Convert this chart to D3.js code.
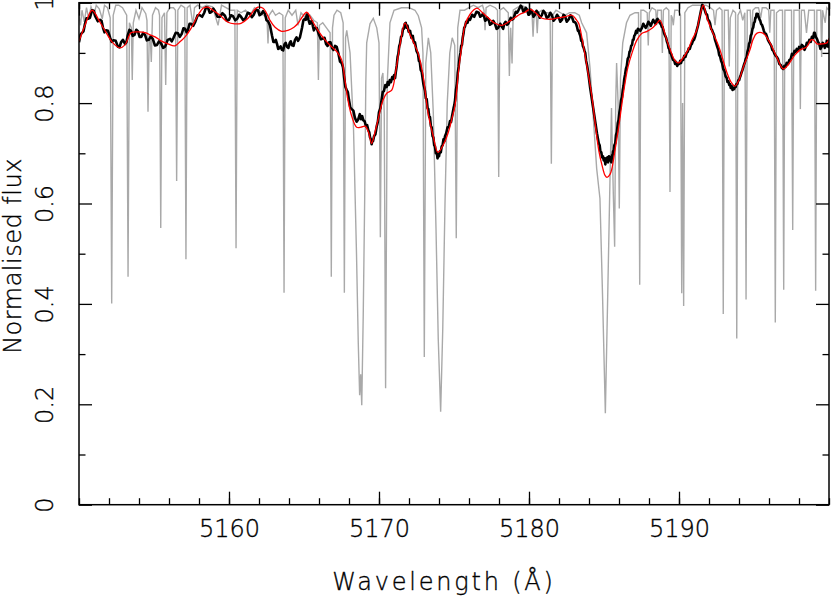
<!DOCTYPE html>
<html>
<head>
<meta charset="utf-8">
<script src="https://cdn.jsdelivr.net/npm/d3@7"></script>
<style>
	html, body { margin: 0; padding: 0; background: #fff; }
	svg { display: block; }
	text { font-family: "DejaVu Sans", sans-serif; font-weight: 200; fill: #000; stroke: #000; stroke-width: 0.35; }
</style>
</head>
<body>
<svg id="spectrum" width="831" height="598"></svg>
<script>
// wavelength range and ticks
const xDomain = [5150, 5200];
const yDomain = [0, 1];
const xMajor = [5150, 5160, 5170, 5180, 5190, 5200];
const xMinor = d3.range(5150, 5201, 2);
const yMajor = [0, 0.2, 0.4, 0.6, 0.8, 1];
const yMinor = [0.1, 0.3, 0.5, 0.7, 0.9];

// synthetic (unbroadened) spectrum, grey
const synthetic = [
	[5150.00,0.975],[5150.10,0.955],[5150.20,0.985],[5150.35,0.962],[5150.50,0.990],[5150.65,0.968],[5150.80,0.992],[5151.00,0.975],[5151.15,0.995],[5151.35,0.988],[5151.55,0.968],[5151.70,0.995],[5151.90,0.990],
	[5152.08,0.970],[5152.18,0.401],[5152.28,0.975],[5152.45,0.995],[5152.65,0.995],[5152.90,0.990],
	[5153.18,0.975],[5153.27,0.454],[5153.36,0.960],[5153.49,0.950],[5153.55,0.846],[5153.62,0.960],[5153.80,0.985],[5154.00,0.968],[5154.20,0.990],[5154.45,0.978],
	[5154.53,0.965],[5154.60,0.783],[5154.68,0.935],[5154.76,0.925],[5154.82,0.882],[5154.90,0.975],[5155.10,0.990],[5155.30,0.985],
	[5155.37,0.975],[5155.45,0.551],[5155.53,0.970],[5155.70,0.980],[5155.78,0.836],[5155.86,0.980],[5156.05,0.990],[5156.30,0.990],
	[5156.43,0.985],[5156.51,0.645],[5156.59,0.985],[5156.80,0.995],[5157.05,0.990],[5157.13,0.489],[5157.21,0.990],[5157.40,0.995],
	[5157.60,0.955],[5157.70,0.990],[5157.90,0.995],[5158.20,0.990],[5158.50,0.995],[5158.90,0.992],[5159.27,0.955],[5159.50,0.995],[5159.80,0.990],[5160.10,0.985],
	[5160.39,0.985],[5160.47,0.511],[5160.55,0.985],[5160.80,0.980],[5161.10,0.985],[5161.40,0.975],[5161.70,0.990],[5162.00,0.985],[5162.30,0.975],
	[5162.53,0.970],[5162.60,0.919],[5162.67,0.975],[5162.90,0.985],[5163.10,0.975],[5163.35,0.980],
	[5163.59,0.975],[5163.67,0.422],[5163.75,0.970],[5163.95,0.985],[5164.20,0.975],[5164.45,0.985],[5164.60,0.955],[5164.80,0.980],[5165.10,0.970],[5165.40,0.975],[5165.65,0.965],
	[5165.89,0.960],[5165.96,0.846],[5166.03,0.955],[5166.25,0.960],[5166.50,0.950],
	[5166.74,0.940],[5166.82,0.454],[5166.90,0.950],[5167.00,0.975],[5167.20,0.985],[5167.45,0.980],
	[5167.61,0.960],[5167.69,0.422],[5167.77,0.930],[5167.85,0.945],[5168.07,0.900],[5168.30,0.750],[5168.50,0.500],[5168.62,0.320],[5168.71,0.218],[5168.78,0.260],[5168.85,0.198],[5168.95,0.380],[5169.05,0.620],[5169.12,0.840],[5169.18,0.920],[5169.40,0.958],[5169.62,0.969],[5169.85,0.950],
	[5170.00,0.920],[5170.09,0.533],[5170.17,0.850],[5170.26,0.860],[5170.35,0.780],[5170.44,0.232],[5170.55,0.840],[5170.73,0.960],[5171.00,0.985],[5171.50,0.990],[5172.00,0.990],[5172.40,0.985],[5172.62,0.974],[5172.84,0.950],
	[5172.93,0.900],[5173.02,0.294],[5173.12,0.880],[5173.29,0.930],[5173.45,0.900],[5173.62,0.780],[5173.80,0.550],[5173.95,0.330],[5174.11,0.185],[5174.25,0.350],[5174.40,0.600],[5174.55,0.800],[5174.72,0.900],[5174.88,0.930],
	[5175.05,0.915],[5175.15,0.531],[5175.25,0.950],[5175.40,0.985],[5175.70,0.985],[5176.00,0.990],[5176.30,0.995],[5176.60,0.990],[5176.90,0.995],[5177.00,0.985],[5177.07,0.945],[5177.14,0.990],[5177.40,0.995],[5177.75,0.990],
	[5177.90,0.985],[5177.98,0.653],[5178.06,0.985],[5178.30,0.990],[5178.62,0.980],[5178.69,0.854],[5178.78,0.950],[5178.87,0.879],[5178.95,0.985],[5179.20,0.990],[5179.50,0.995],[5179.80,0.990],[5180.05,0.985],
	[5180.20,0.980],[5180.27,0.932],[5180.35,0.980],[5180.48,0.975],[5180.55,0.939],[5180.62,0.980],[5180.85,0.985],[5181.10,0.980],[5181.30,0.980],
	[5181.41,0.975],[5181.49,0.679],[5181.57,0.975],[5181.80,0.985],[5182.10,0.980],[5182.40,0.975],[5182.70,0.980],[5183.05,0.980],[5183.35,0.975],[5183.51,0.960],[5183.84,0.940],[5184.07,0.870],[5184.29,0.770],[5184.51,0.670],[5184.73,0.610],[5184.90,0.420],[5185.09,0.182],[5185.25,0.420],[5185.40,0.650],[5185.50,0.790],[5185.62,0.620],[5185.71,0.514],[5185.78,0.800],[5185.84,0.880],[5185.94,0.800],[5186.02,0.590],[5186.10,0.850],[5186.25,0.920],[5186.50,0.960],[5186.73,0.975],[5187.07,0.980],
	[5187.30,0.980],[5187.38,0.438],[5187.46,0.985],[5187.65,0.985],[5187.88,0.980],[5187.95,0.915],[5188.02,0.980],[5188.20,0.990],[5188.45,0.985],[5188.51,0.955],[5188.58,0.985],[5188.82,0.985],[5188.89,0.900],[5188.96,0.985],[5189.15,0.990],
	[5189.32,0.985],[5189.40,0.623],[5189.48,0.975],[5189.55,0.970],[5189.62,0.955],[5189.72,0.985],[5189.95,0.985],[5190.10,0.975],[5190.18,0.421],[5190.24,0.800],[5190.31,0.396],[5190.39,0.980],[5190.60,0.990],[5190.90,0.995],[5191.20,0.995],[5191.50,0.995],[5191.80,0.995],[5192.10,0.990],[5192.30,0.985],[5192.40,0.955],[5192.50,0.985],[5192.70,0.990],
	[5192.87,0.985],[5192.95,0.380],[5193.03,0.985],[5193.28,0.985],[5193.35,0.873],[5193.42,0.970],[5193.60,0.985],[5193.77,0.980],[5193.85,0.331],[5193.93,0.975],[5194.10,0.985],[5194.25,0.965],[5194.39,0.980],[5194.47,0.409],[5194.55,0.985],[5194.75,0.985],[5194.84,0.920],[5194.92,0.985],[5195.10,0.990],[5195.30,0.990],[5195.45,0.970],[5195.55,0.990],[5195.80,0.990],[5195.98,0.985],[5196.05,0.940],[5196.12,0.985],
	[5196.34,0.985],[5196.42,0.363],[5196.50,0.980],[5196.70,0.985],[5196.90,0.985],[5196.98,0.428],[5197.06,0.985],[5197.30,0.985],[5197.50,0.985],[5197.58,0.547],[5197.66,0.985],[5197.85,0.985],[5198.02,0.985],[5198.09,0.788],[5198.16,0.985],[5198.35,0.985],[5198.50,0.940],[5198.65,0.985],[5198.85,0.985],[5199.03,0.985],[5199.11,0.426],[5199.19,0.985],[5199.35,0.985],[5199.45,0.985],[5199.51,0.892],[5199.57,0.985],[5199.75,0.960],[5199.85,0.990],[5200.00,0.985]
];

// observed spectrum, black (noisy)
const observed = [
	[5150.00,0.921],[5150.10,0.936],[5150.20,0.940],[5150.30,0.943],[5150.40,0.958],[5150.50,0.969],[5150.60,0.968],[5150.73,0.970],[5150.87,0.985],[5150.98,0.984],[5151.10,0.972],[5151.25,0.963],[5151.40,0.966],[5151.50,0.964],[5151.60,0.950],[5151.70,0.941],[5151.80,0.945],[5151.93,0.944],
	[5152.07,0.931],[5152.18,0.922],[5152.30,0.925],[5152.45,0.924],[5152.60,0.912],[5152.70,0.911],[5152.80,0.921],[5152.93,0.926],[5153.07,0.918],[5153.16,0.921],[5153.25,0.935],[5153.36,0.946],[5153.47,0.944],[5153.58,0.934],[5153.70,0.936],[5153.82,0.946],[5153.93,0.943],
	[5154.04,0.932],[5154.15,0.932],[5154.28,0.940],[5154.40,0.936],[5154.52,0.925],[5154.65,0.926],[5154.79,0.933],[5154.93,0.927],[5155.06,0.915],[5155.20,0.916],[5155.33,0.923],[5155.47,0.919],[5155.61,0.910],[5155.75,0.913],[5155.91,0.926],
	[5156.07,0.928],[5156.18,0.923],[5156.30,0.930],[5156.45,0.940],[5156.60,0.939],[5156.72,0.932],[5156.85,0.938],[5156.96,0.949],[5157.07,0.948],[5157.17,0.941],[5157.27,0.946],[5157.37,0.958],[5157.47,0.958],[5157.61,0.954],[5157.75,0.962],[5157.91,0.975],
	[5158.07,0.975],[5158.21,0.972],[5158.35,0.980],[5158.47,0.991],[5158.60,0.990],[5158.72,0.980],[5158.85,0.982],[5158.96,0.988],[5159.07,0.983],[5159.23,0.972],[5159.40,0.972],[5159.56,0.979],[5159.73,0.974],[5159.86,0.964],
	[5160.00,0.966],[5160.13,0.975],[5160.27,0.973],[5160.41,0.965],[5160.55,0.968],[5160.67,0.976],[5160.80,0.972],[5160.95,0.965],[5161.10,0.969],[5161.25,0.980],[5161.40,0.978],[5161.52,0.971],[5161.65,0.976],[5161.79,0.986],[5161.93,0.985],
	[5162.04,0.975],[5162.15,0.977],[5162.27,0.983],[5162.40,0.978],[5162.50,0.965],[5162.60,0.963],[5162.73,0.955],[5162.87,0.934],[5162.96,0.922],[5163.05,0.922],[5163.12,0.926],[5163.20,0.918],[5163.28,0.908],[5163.35,0.909],[5163.44,0.913],[5163.53,0.906],[5163.61,0.905],[5163.70,0.917],[5163.78,0.920],[5163.87,0.912],[5163.96,0.910],
	[5164.05,0.920],[5164.12,0.923],[5164.20,0.915],[5164.30,0.914],[5164.40,0.926],[5164.50,0.931],[5164.60,0.924],[5164.73,0.931],[5164.87,0.950],[5164.96,0.965],[5165.05,0.968],[5165.12,0.966],[5165.18,0.976],[5165.24,0.977],[5165.30,0.966],[5165.38,0.958],[5165.47,0.963],[5165.53,0.963],[5165.60,0.952],[5165.66,0.945],[5165.73,0.950],[5165.86,0.949],
	[5166.00,0.936],[5166.13,0.927],[5166.27,0.929],[5166.37,0.930],[5166.47,0.918],[5166.57,0.914],[5166.67,0.921],[5166.77,0.921],[5166.87,0.910],[5166.97,0.906],[5167.07,0.914],[5167.18,0.912],[5167.30,0.898],[5167.40,0.883],[5167.51,0.880],[5167.60,0.871],[5167.68,0.850],[5167.76,0.832],[5167.85,0.826],[5167.92,0.822],
	[5168.00,0.806],[5168.09,0.791],[5168.18,0.788],[5168.29,0.785],[5168.40,0.770],[5168.51,0.763],[5168.62,0.768],[5168.72,0.778],[5168.80,0.768],[5168.88,0.774],[5168.95,0.766],[5169.04,0.764],[5169.13,0.754],[5169.21,0.756],[5169.29,0.746],[5169.35,0.742],[5169.40,0.732],[5169.46,0.728],[5169.51,0.718],[5169.56,0.726],[5169.60,0.724],[5169.67,0.734],[5169.76,0.738],[5169.85,0.754],[5169.92,0.762],
	[5170.00,0.782],[5170.09,0.790],[5170.18,0.808],[5170.25,0.822],[5170.33,0.824],[5170.42,0.836],[5170.51,0.832],[5170.58,0.842],[5170.65,0.836],[5170.72,0.846],[5170.80,0.842],[5170.88,0.852],[5170.95,0.848],[5171.01,0.856],[5171.07,0.850],[5171.12,0.862],[5171.18,0.874],[5171.24,0.892],[5171.29,0.898],[5171.35,0.914],[5171.40,0.918],[5171.47,0.932],[5171.53,0.934],[5171.60,0.948],[5171.66,0.948],[5171.72,0.958],[5171.78,0.960],[5171.84,0.950],[5171.90,0.954],[5171.98,0.942],
	[5172.07,0.944],[5172.16,0.930],[5172.25,0.934],[5172.33,0.920],[5172.40,0.921],[5172.50,0.904],[5172.60,0.898],[5172.66,0.884],[5172.72,0.882],[5172.78,0.866],[5172.85,0.862],[5172.96,0.838],[5173.07,0.824],[5173.12,0.810],[5173.18,0.808],[5173.24,0.790],[5173.29,0.788],[5173.35,0.772],[5173.40,0.772],[5173.46,0.754],[5173.51,0.752],[5173.57,0.734],[5173.62,0.732],[5173.68,0.716],[5173.73,0.714],[5173.79,0.700],[5173.85,0.702],[5173.90,0.690],[5173.95,0.696],
	[5174.00,0.694],[5174.06,0.704],[5174.12,0.702],[5174.18,0.714],[5174.24,0.716],[5174.30,0.728],[5174.35,0.724],[5174.40,0.734],[5174.48,0.740],[5174.57,0.752],[5174.65,0.752],[5174.73,0.764],[5174.80,0.762],[5174.87,0.774],[5174.92,0.782],[5174.97,0.790],[5175.02,0.796],[5175.07,0.806],[5175.13,0.826],[5175.20,0.840],[5175.25,0.860],[5175.31,0.872],[5175.37,0.890],[5175.43,0.900],[5175.48,0.914],[5175.53,0.916],[5175.58,0.930],[5175.63,0.938],[5175.68,0.950],[5175.73,0.952],[5175.81,0.962],[5175.90,0.960],[5175.98,0.968],
	[5176.07,0.966],[5176.21,0.976],[5176.35,0.972],[5176.50,0.982],[5176.65,0.980],[5176.75,0.972],[5176.85,0.974],[5176.93,0.978],[5177.00,0.973],[5177.08,0.964],[5177.15,0.966],[5177.23,0.970],[5177.31,0.966],[5177.40,0.956],[5177.50,0.958],[5177.62,0.964],[5177.73,0.958],[5177.84,0.948],[5177.95,0.950],
	[5178.08,0.958],[5178.20,0.952],[5178.28,0.948],[5178.35,0.958],[5178.44,0.962],[5178.53,0.956],[5178.62,0.958],[5178.70,0.964],[5178.78,0.970],[5178.87,0.966],[5178.96,0.968],[5179.05,0.976],[5179.12,0.982],[5179.20,0.980],[5179.28,0.984],[5179.35,0.988],[5179.44,0.994],[5179.53,0.991],[5179.62,0.982],[5179.70,0.984],[5179.78,0.990],[5179.87,0.986],[5179.96,0.976],
	[5180.05,0.978],[5180.12,0.986],[5180.20,0.982],[5180.30,0.972],[5180.40,0.976],[5180.50,0.984],[5180.60,0.980],[5180.72,0.970],[5180.85,0.975],[5180.96,0.984],[5181.07,0.980],[5181.18,0.970],[5181.30,0.972],[5181.42,0.980],[5181.53,0.975],[5181.64,0.964],[5181.75,0.968],[5181.87,0.976],[5181.98,0.971],
	[5182.09,0.962],[5182.20,0.966],[5182.30,0.976],[5182.40,0.973],[5182.52,0.962],[5182.65,0.967],[5182.76,0.975],[5182.87,0.971],[5182.97,0.962],[5183.07,0.961],[5183.14,0.958],[5183.20,0.952],[5183.26,0.944],[5183.31,0.945],[5183.37,0.938],[5183.42,0.934],[5183.48,0.924],[5183.53,0.926],[5183.59,0.914],[5183.65,0.910],[5183.70,0.904],[5183.75,0.900],[5183.81,0.884],[5183.87,0.876],[5183.92,0.866],[5183.97,0.856],
	[5184.08,0.830],[5184.20,0.806],[5184.31,0.784],[5184.42,0.762],[5184.53,0.740],[5184.65,0.720],[5184.71,0.716],[5184.76,0.704],[5184.82,0.702],[5184.87,0.692],[5184.93,0.694],[5184.98,0.686],[5185.04,0.690],[5185.09,0.678],[5185.14,0.690],[5185.18,0.684],[5185.23,0.692],[5185.27,0.682],[5185.33,0.694],[5185.38,0.686],[5185.44,0.692],[5185.49,0.682],[5185.53,0.696],[5185.56,0.692],[5185.60,0.704],[5185.63,0.700],[5185.69,0.716],[5185.75,0.720],[5185.80,0.736],[5185.86,0.742],[5185.92,0.760],[5185.97,0.766],
	[5186.03,0.782],[5186.08,0.790],[5186.14,0.806],[5186.20,0.812],[5186.25,0.826],[5186.30,0.834],[5186.35,0.848],[5186.40,0.856],[5186.46,0.868],[5186.52,0.874],[5186.58,0.888],[5186.65,0.892],[5186.70,0.902],[5186.75,0.904],[5186.81,0.914],[5186.87,0.916],[5186.92,0.926],[5186.97,0.926],
	[5187.02,0.934],[5187.07,0.936],[5187.14,0.944],[5187.20,0.940],[5187.26,0.948],[5187.31,0.947],[5187.42,0.944],[5187.53,0.950],[5187.62,0.958],[5187.70,0.954],[5187.78,0.950],[5187.87,0.955],[5187.96,0.962],
	[5188.05,0.958],[5188.12,0.954],[5188.20,0.960],[5188.28,0.966],[5188.35,0.962],[5188.43,0.958],[5188.51,0.966],[5188.57,0.968],[5188.62,0.962],[5188.68,0.964],[5188.73,0.959],[5188.79,0.958],[5188.85,0.952],[5188.90,0.952],[5188.95,0.946],
	[5189.02,0.938],[5189.08,0.934],[5189.14,0.930],[5189.20,0.922],[5189.25,0.918],[5189.30,0.910],[5189.35,0.908],[5189.40,0.900],[5189.47,0.898],[5189.53,0.892],[5189.60,0.886],[5189.67,0.886],[5189.74,0.878],[5189.80,0.882],[5189.88,0.874],[5189.95,0.878],
	[5190.02,0.878],[5190.08,0.884],[5190.14,0.880],[5190.20,0.886],[5190.28,0.886],[5190.35,0.894],[5190.43,0.892],[5190.51,0.900],[5190.58,0.902],[5190.65,0.909],[5190.72,0.908],[5190.80,0.916],[5190.86,0.918],[5190.93,0.924],[5191.00,0.926],
	[5191.07,0.932],[5191.17,0.944],[5191.27,0.955],[5191.37,0.970],[5191.47,0.985],[5191.55,0.996],[5191.62,0.992],[5191.71,0.986],[5191.80,0.978],[5191.87,0.976],[5191.93,0.966],
	[5192.00,0.964],[5192.07,0.959],[5192.14,0.948],[5192.20,0.946],[5192.27,0.940],[5192.33,0.936],[5192.40,0.926],[5192.47,0.920],[5192.55,0.912],[5192.62,0.906],[5192.68,0.896],[5192.75,0.892],[5192.81,0.884],[5192.87,0.880],[5192.95,0.868],
	[5193.03,0.864],[5193.10,0.854],[5193.18,0.850],[5193.23,0.842],[5193.29,0.844],[5193.35,0.836],[5193.40,0.838],[5193.45,0.830],[5193.51,0.834],[5193.57,0.826],[5193.62,0.830],[5193.68,0.828],[5193.73,0.834],[5193.78,0.832],[5193.83,0.838],[5193.89,0.838],[5193.95,0.845],
	[5194.01,0.846],[5194.07,0.852],[5194.12,0.856],[5194.18,0.862],[5194.23,0.866],[5194.29,0.872],[5194.35,0.878],[5194.40,0.882],[5194.45,0.888],[5194.51,0.892],[5194.56,0.902],[5194.62,0.908],[5194.67,0.918],[5194.73,0.922],[5194.78,0.934],[5194.84,0.938],[5194.90,0.948],[5194.95,0.951],
	[5195.00,0.960],[5195.05,0.962],[5195.09,0.970],[5195.13,0.970],[5195.17,0.978],[5195.21,0.976],[5195.25,0.978],[5195.29,0.974],[5195.33,0.970],[5195.38,0.966],[5195.42,0.964],[5195.47,0.958],[5195.53,0.956],[5195.60,0.950],[5195.66,0.944],[5195.73,0.938],[5195.80,0.938],[5195.87,0.932],[5195.93,0.926],
	[5196.00,0.922],[5196.08,0.918],[5196.15,0.914],[5196.22,0.906],[5196.29,0.904],[5196.37,0.898],[5196.45,0.894],[5196.52,0.892],[5196.60,0.888],[5196.69,0.878],[5196.78,0.876],[5196.86,0.870],[5196.95,0.868],
	[5197.02,0.874],[5197.10,0.872],[5197.18,0.880],[5197.27,0.878],[5197.36,0.886],[5197.45,0.888],[5197.53,0.898],[5197.62,0.896],[5197.70,0.904],[5197.78,0.902],[5197.85,0.908],[5197.93,0.904],
	[5198.01,0.912],[5198.10,0.909],[5198.19,0.916],[5198.29,0.913],[5198.37,0.906],[5198.45,0.912],[5198.52,0.920],[5198.60,0.918],[5198.69,0.926],[5198.78,0.922],[5198.86,0.932],[5198.95,0.930],
	[5199.00,0.940],[5199.05,0.940],[5199.12,0.932],[5199.20,0.928],[5199.27,0.922],[5199.35,0.918],[5199.43,0.908],[5199.51,0.912],[5199.58,0.920],[5199.65,0.918],[5199.72,0.910],[5199.80,0.914],[5199.85,0.924],[5199.90,0.922],[5199.95,0.912],[5200.00,0.918]
];

// broadened model, red
const model = [
	[5150.00,0.923],[5150.40,0.955],[5150.87,0.985],[5151.40,0.961],[5151.80,0.941],[5152.20,0.922],[5152.71,0.910],[5153.07,0.916],[5153.47,0.940],[5153.93,0.942],[5154.47,0.940],[5154.73,0.936],[5155.07,0.932],[5155.47,0.924],[5155.93,0.918],[5156.38,0.914],[5156.73,0.922],[5157.07,0.932],[5157.47,0.949],[5157.93,0.975],[5158.27,0.989],[5158.60,0.991],[5158.93,0.985],[5159.40,0.975],[5159.93,0.961],[5160.38,0.958],[5160.80,0.959],[5161.27,0.969],[5161.67,0.985],[5161.93,0.991],[5162.27,0.989],[5162.47,0.981],[5162.73,0.965],[5163.07,0.951],[5163.51,0.943],[5163.93,0.945],[5164.33,0.951],[5164.60,0.959],[5164.87,0.971],[5165.18,0.981],[5165.53,0.965],[5165.93,0.945],[5166.40,0.926],[5166.85,0.912],[5167.20,0.902],[5167.51,0.886],[5167.73,0.846],[5167.93,0.806],[5168.20,0.772],[5168.51,0.752],[5168.80,0.752],[5169.07,0.754],[5169.30,0.742],[5169.51,0.720],[5169.73,0.742],[5169.93,0.766],[5170.27,0.806],[5170.53,0.820],[5170.85,0.826],[5171.13,0.866],[5171.40,0.916],[5171.73,0.960],[5172.07,0.936],[5172.60,0.900],[5172.93,0.856],[5173.27,0.780],[5173.60,0.736],[5173.93,0.702],[5174.27,0.716],[5174.60,0.740],[5174.87,0.770],[5175.07,0.796],[5175.31,0.866],[5175.53,0.916],[5175.73,0.955],[5176.07,0.977],[5176.53,0.989],[5176.87,0.981],[5177.31,0.969],[5177.73,0.959],[5178.20,0.955],[5178.60,0.961],[5179.00,0.969],[5179.40,0.977],[5179.73,0.981],[5180.07,0.987],[5180.40,0.981],[5180.87,0.969],[5181.40,0.967],[5181.98,0.970],[5182.40,0.972],[5182.87,0.975],[5183.13,0.967],[5183.31,0.959],[5183.53,0.930],[5183.87,0.872],[5184.20,0.812],[5184.40,0.762],[5184.65,0.706],[5184.87,0.676],[5185.07,0.656],[5185.20,0.652],[5185.40,0.658],[5185.53,0.670],[5185.73,0.706],[5185.98,0.752],[5186.20,0.800],[5186.40,0.840],[5186.60,0.872],[5186.87,0.900],[5187.20,0.926],[5187.53,0.939],[5187.87,0.943],[5188.20,0.949],[5188.47,0.957],[5188.73,0.965],[5188.93,0.951],[5189.18,0.926],[5189.47,0.902],[5189.70,0.886],[5189.95,0.880],[5190.27,0.890],[5190.60,0.906],[5190.87,0.926],[5191.18,0.945],[5191.40,0.975],[5191.62,0.995],[5191.87,0.969],[5192.18,0.945],[5192.47,0.926],[5192.73,0.906],[5193.18,0.862],[5193.47,0.842],[5193.73,0.834],[5194.00,0.846],[5194.29,0.872],[5194.53,0.890],[5194.73,0.906],[5194.93,0.926],[5195.18,0.939],[5195.62,0.939],[5196.07,0.920],[5196.51,0.892],[5196.95,0.868],[5197.27,0.876],[5197.73,0.896],[5198.07,0.906],[5198.51,0.912],[5198.80,0.926],[5198.95,0.926],[5199.20,0.918],[5199.53,0.918],[5199.87,0.920],[5200.00,0.929]
];

const width = 831;
const height = 598;
const plot = {left: 79, right: 829, top: 2.7, bottom: 504.7};

const x = d3.scaleLinear()
	.domain(xDomain)
	.range([plot.left, plot.right]);

const y = d3.scaleLinear()
	.domain(yDomain)
	.range([plot.bottom, plot.top]);

const svg = d3.select('#spectrum');

svg.append('defs').append('clipPath')
	.attr('id', 'clip')
	.append('rect')
	.attr('x', plot.left)
	.attr('y', plot.top)
	.attr('width', plot.right - plot.left)
	.attr('height', plot.bottom - plot.top);

const line = d3.line()
	.x(d => x(d[0]))
	.y(d => y(d[1]));

const smooth = d3.line()
	.x(d => x(d[0]))
	.y(d => y(d[1]))
	.curve(d3.curveCatmullRom.alpha(0.5));

const lines = svg.append('g').attr('clip-path', 'url(#clip)');

lines.append('path')
	.datum(synthetic)
	.attr('d', line)
	.attr('fill', 'none')
	.attr('stroke', '#a9a9a9')
	.attr('stroke-width', 1.4);

lines.append('path')
	.datum(observed)
	.attr('d', line)
	.attr('fill', 'none')
	.attr('stroke', '#000')
	.attr('stroke-width', 2.6)
	.attr('stroke-linejoin', 'round');

lines.append('path')
	.datum(model)
	.attr('d', smooth)
	.attr('fill', 'none')
	.attr('stroke', '#ff0000')
	.attr('stroke-width', 1.3);

// axes: ticks inside on all four sides
function styleAxis(g) {
	g.select('.domain').remove();
	g.selectAll('line').attr('stroke', '#000').attr('stroke-width', 1.3);
	g.selectAll('text')
		.attr('font-size', 24)
		.attr('font-family', '"DejaVu Sans", sans-serif')
		.attr('fill', '#000');
}

const major = 13;
const minor = 6.5;

svg.append('g')
	.attr('transform', `translate(0,${plot.bottom})`)
	.call(d3.axisBottom(x).tickValues(xMajor.slice(1, -1)).tickSize(-major).tickPadding(15).tickFormat(d3.format('d')))
	.call(styleAxis);
svg.append('g')
	.attr('transform', `translate(0,${plot.bottom})`)
	.call(d3.axisBottom(x).tickValues(xMinor).tickSize(-minor).tickFormat(''))
	.call(styleAxis);
svg.append('g')
	.attr('transform', `translate(0,${plot.top})`)
	.call(d3.axisTop(x).tickValues(xMajor).tickSize(-major).tickFormat(''))
	.call(styleAxis);
svg.append('g')
	.attr('transform', `translate(0,${plot.top})`)
	.call(d3.axisTop(x).tickValues(xMinor).tickSize(-minor).tickFormat(''))
	.call(styleAxis);

const left = svg.append('g')
	.attr('transform', `translate(${plot.left},0)`)
	.call(d3.axisLeft(y).tickValues(yMajor).tickSize(-major).tickFormat(d => d === 0 || d === 1 ? d3.format('d')(d) : d3.format('.1f')(d)))
	.call(styleAxis);
left.selectAll('text')
	.attr('transform', 'rotate(-90)')
	.attr('x', 0)
	.attr('y', -26)
	.attr('dy', 0)
	.attr('text-anchor', 'middle');
svg.append('g')
	.attr('transform', `translate(${plot.left},0)`)
	.call(d3.axisLeft(y).tickValues(yMinor).tickSize(-minor).tickFormat(''))
	.call(styleAxis);
svg.append('g')
	.attr('transform', `translate(${plot.right},0)`)
	.call(d3.axisRight(y).tickValues(yMajor).tickSize(-major).tickFormat(''))
	.call(styleAxis);
svg.append('g')
	.attr('transform', `translate(${plot.right},0)`)
	.call(d3.axisRight(y).tickValues(yMinor).tickSize(-minor).tickFormat(''))
	.call(styleAxis);

// frame
svg.append('rect')
	.attr('x', plot.left)
	.attr('y', plot.top)
	.attr('width', plot.right - plot.left)
	.attr('height', plot.bottom - plot.top)
	.attr('fill', 'none')
	.attr('stroke', '#000')
	.attr('stroke-width', 1.5);

// titles
svg.append('text')
	.attr('x', 444)
	.attr('y', 590)
	.attr('text-anchor', 'middle')
	.attr('font-size', 24)
	.attr('letter-spacing', 2.8)
	.text('Wavelength (Å)');

svg.append('text')
	.attr('transform', `translate(21,256) rotate(-90)`)
	.attr('text-anchor', 'middle')
	.attr('font-size', 24)
	.attr('letter-spacing', 0.5)
	.text('Normalised flux');
</script>
</body>
</html>
